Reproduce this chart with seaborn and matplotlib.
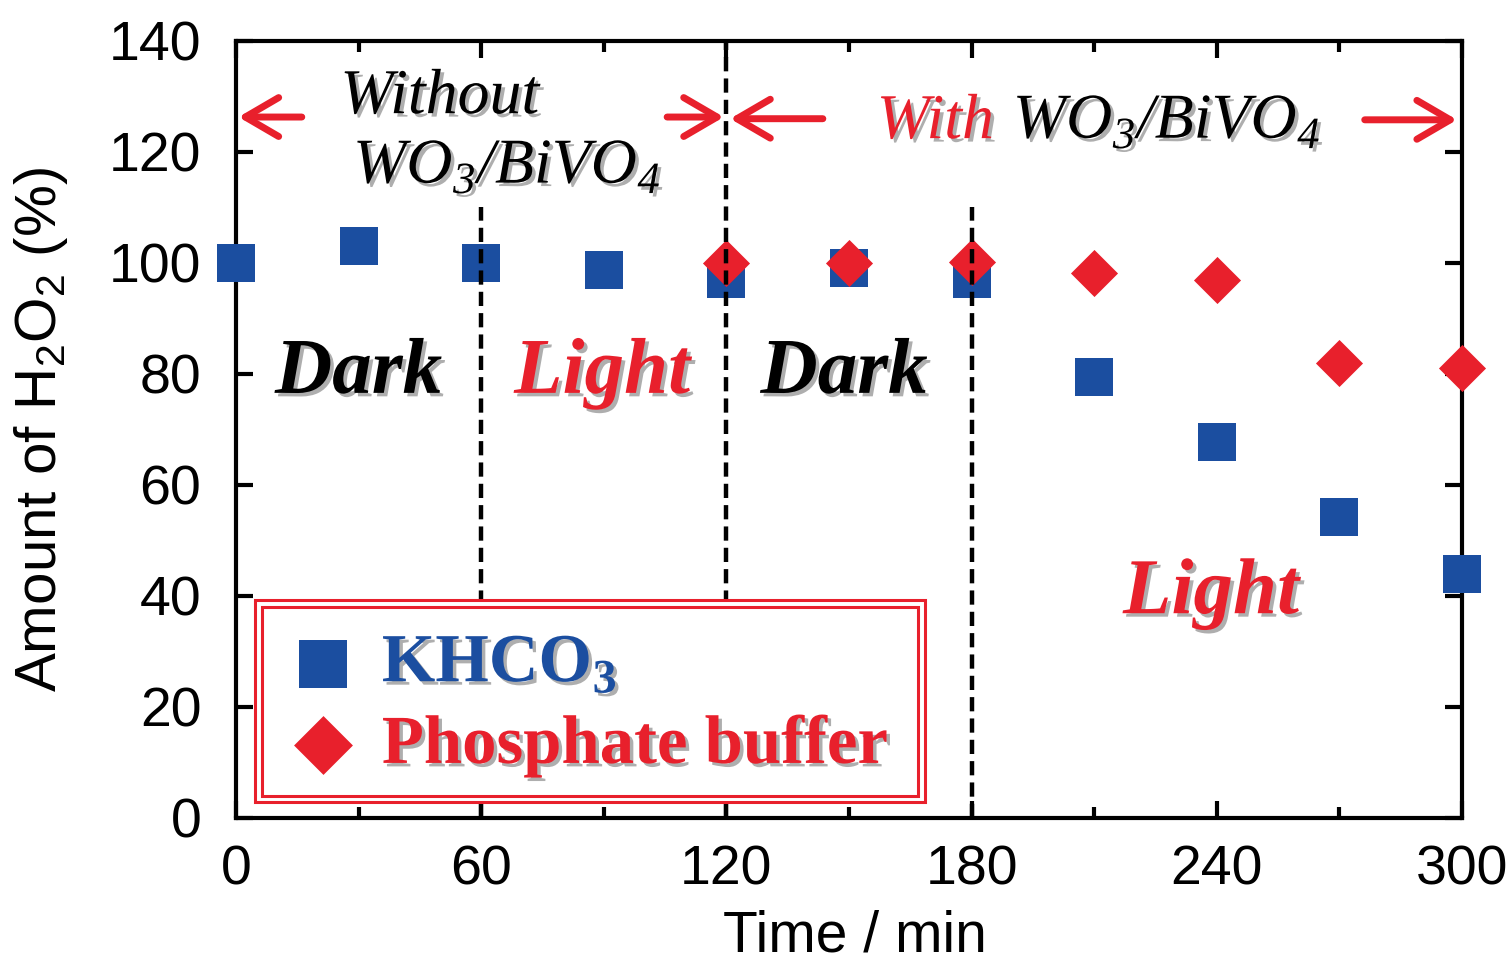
import matplotlib
matplotlib.use("Agg")
import matplotlib.pyplot as plt
import matplotlib.patheffects as pe
from matplotlib.patches import Rectangle
import pandas as pd
import seaborn as sns

# H2O2 remaining (%) versus irradiation / dark time
time_khco3 = [0, 30, 60, 90, 120, 150, 180, 210, 240, 270, 300]
h2o2_khco3 = [100, 103, 100, 98.7, 97.1, 99.1, 97.1, 79.5, 67.8, 54.2, 44.0]
time_phos = [120, 150, 180, 210, 240, 270, 300]
h2o2_phos = [100, 100, 100.2, 98.2, 96.9, 82.0, 81.1]

series_labels = ["KHCO$_\\mathregular{3}$", "Phosphate buffer"]
x_ticks = [0, 60, 120, 180, 240, 300]
x_minor = [30, 90, 150, 210, 270]
y_ticks = [0, 20, 40, 60, 80, 100, 120, 140]

BLUE = "#1B4EA0"
RED = "#E8202C"

sns.set_theme(style="ticks")
plt.rcParams["font.family"] = ["Liberation Sans", "DejaVu Sans"]
plt.rcParams["axes.linewidth"] = 3
plt.rcParams["text.color"] = "black"
plt.rcParams["axes.labelcolor"] = "black"
plt.rcParams["xtick.color"] = "black"
plt.rcParams["ytick.color"] = "black"

fig = plt.figure(figsize=(15.12, 9.72), dpi=100)
ax = fig.add_axes([0.15608, 0.15844, 0.81085, 0.79938])

df_k = pd.DataFrame({"t": time_khco3, "v": h2o2_khco3})
df_p = pd.DataFrame({"t": time_phos, "v": h2o2_phos})

sns.scatterplot(data=df_k, x="t", y="v", marker="s", s=750, color=BLUE,
                linewidth=0, ax=ax, zorder=3, label=series_labels[0],
                clip_on=False)
sns.scatterplot(data=df_p, x="t", y="v", marker="D", s=575, color=RED,
                linewidth=0, ax=ax, zorder=3.5, label=series_labels[1],
                clip_on=False)

ax.set_xlim(0, 300)
ax.set_ylim(0, 140)
ax.set_xticks(x_ticks)
ax.set_xticks(x_minor, minor=True)
ax.set_yticks(y_ticks)
ax.tick_params(which="major", direction="in", length=12, width=3,
               top=True, right=True, labelsize=40, colors="black")
ax.tick_params(which="minor", direction="in", length=8, width=3,
               top=True, bottom=True)
ax.tick_params(axis="x", pad=19)
ax.tick_params(axis="y", pad=25)
for s in ax.spines.values():
    s.set_color("black")

ax.set_xlabel("Time / min", fontsize=41, color="black")
ax.set_ylabel("Amount of H$_\\mathregular{2}$O$_\\mathregular{2}$ (%)",
              fontsize=42, color="black")
ax.xaxis.set_label_coords(0.505, -0.118)
ax.yaxis.set_label_coords(-0.135, 0.5)

# boundaries between dark and light periods
dash = dict(color="black", lw=3.2, ls=(0, (3.2, 1.6)), zorder=4)
ax.plot([60, 60], [0, 110], **dash)
ax.plot([120, 120], [0, 140], **dash)
ax.plot([180, 180], [0, 110], **dash)

shadow = [pe.withSimplePatchShadow(offset=(2.5, -2.5), shadow_rgbFace="0.3", alpha=0.45)]
serif = "Liberation Serif"

# Dark / Light period labels
period = dict(fontsize=57, family=serif, weight="bold", style="italic",
              ha="center", va="baseline", path_effects=shadow, zorder=5)
ax.text(30, 76.6, "Dark", color="black", **period)
ax.text(89.6, 76.6, "Light", color=RED, **period)
ax.text(148.8, 76.6, "Dark", color="black", **period)
ax.text(238.6, 36.9, "Light", color=RED, **period)

# Photocatalyst presence headers
head = dict(fontsize=46, family=serif, style="italic", va="baseline",
            path_effects=shadow, zorder=5)
ax.text(49.9, 127, "Without", color="black", ha="center", **head)
ax.text(66.3, 114.4, "WO$_\\mathregular{3}$/BiVO$_\\mathregular{4}$",
        color="black", ha="center", **head)
ax.text(156.8, 122.5, "With", color=RED, ha="left", **head)
ax.text(190.1, 122.5, "WO$_\\mathregular{3}$/BiVO$_\\mathregular{4}$",
        color="black", ha="left", **head)

arrow = dict(arrowstyle="->,head_length=1.2,head_width=0.7", lw=5, color=RED,
             shrinkA=0, shrinkB=0, mutation_scale=20,
             capstyle="round", joinstyle="round")
for tail, tip, yy in [(16.1, 0.6, 126.3), (105.5, 119.4, 126.3),
                      (143.6, 120.9, 126.0), (276.2, 298.8, 125.8)]:
    ax.annotate("", xy=(tip, yy), xytext=(tail, yy),
                arrowprops=arrow, zorder=5)

# legend with double red frame
ax.add_patch(Rectangle((0.0155, 0.0206), 0.5465, 0.26, transform=ax.transAxes,
                       facecolor="white", edgecolor=RED, lw=2.2, zorder=5))
ax.add_patch(Rectangle((0.0212, 0.0283), 0.5351, 0.2433, transform=ax.transAxes,
                       facecolor="none", edgecolor=RED, lw=2.2, zorder=5))
leg = ax.legend(loc="center", bbox_to_anchor=(0.2875, 0.145), frameon=False,
                prop=dict(family=serif, weight="bold", size=49.5),
                markerscale=1.25, handlelength=1.0, handletextpad=0.35,
                labelspacing=0.25, borderpad=0)
leg.set_zorder(6)
for txt, col in zip(leg.get_texts(), [BLUE, RED]):
    txt.set_color(col)
    txt.set_path_effects(shadow)

fig.savefig("out.png", dpi=100)
